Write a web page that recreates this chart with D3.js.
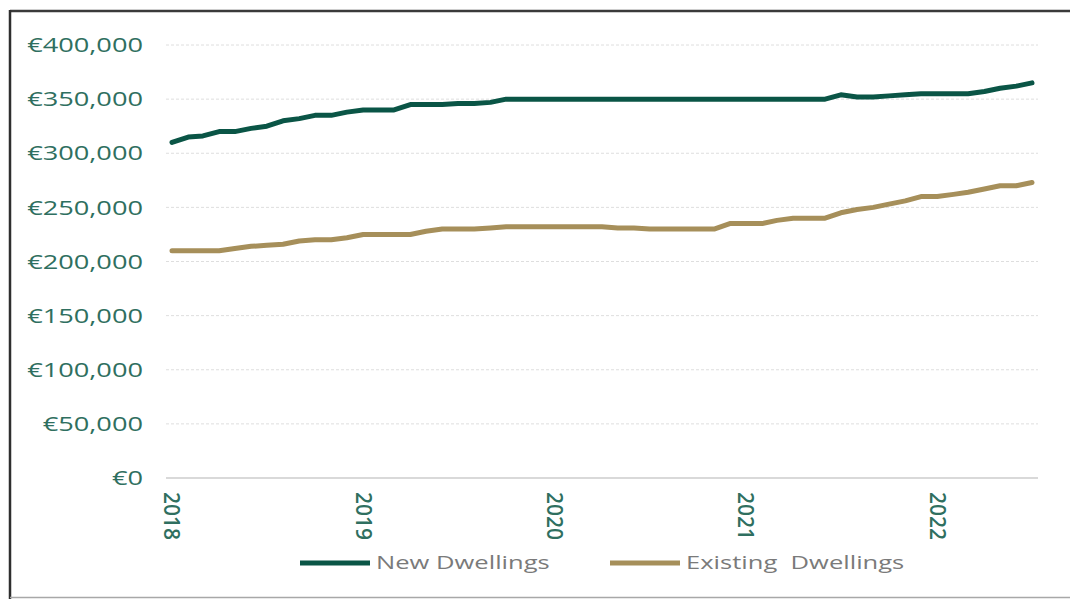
<!DOCTYPE html>
<html>
<head>
<meta charset="utf-8">
<script src="https://cdn.jsdelivr.net/npm/d3@7"></script>
<style>
  html, body { margin: 0; padding: 0; background: #fff; }
  svg { display: block; }
</style>
</head>
<body>
<svg id="chart" width="1070" height="599"></svg>
<script>
// ---- Data (monthly, Jan 2018 – Jul 2022) ----
const startMonth = new Date(2018, 0, 1);
const endMonth = new Date(2022, 6, 1);
const seriesNames = ["New Dwellings", "Existing  Dwellings"];
const newDwellings = [
  310000, 315000, 316000, 320000, 320000, 323000, 325000, 330000, 332000, 335000, 335000, 338000,
  340000, 340000, 340000, 345000, 345000, 345000, 346000, 346000, 347000, 350000, 350000, 350000,
  350000, 350000, 350000, 350000, 350000, 350000, 350000, 350000, 350000, 350000, 350000, 350000,
  350000, 350000, 350000, 350000, 350000, 350000, 354000, 352000, 352000, 353000, 354000, 355000,
  355000, 355000, 355000, 357000, 360000, 362000, 365000
];
const existingDwellings = [
  210000, 210000, 210000, 210000, 212000, 214000, 215000, 216000, 219000, 220000, 220000, 222000,
  225000, 225000, 225000, 225000, 228000, 230000, 230000, 230000, 231000, 232000, 232000, 232000,
  232000, 232000, 232000, 232000, 231000, 231000, 230000, 230000, 230000, 230000, 230000, 235000,
  235000, 235000, 238000, 240000, 240000, 240000, 245000, 248000, 250000, 253000, 256000, 260000,
  260000, 262000, 264000, 267000, 270000, 270000, 273000
];
const yTicks = [0, 50000, 100000, 150000, 200000, 250000, 300000, 350000, 400000];
const xTickYears = [2018, 2019, 2020, 2021, 2022];

const months = d3.timeMonth.range(startMonth, d3.timeMonth.offset(endMonth, 1));
const colors = ["#0a5546", "#a68f5a"];

const svg = d3.select("#chart");

// frame
svg.append("line").attr("x1", 10).attr("x2", 1070).attr("y1", 11).attr("y2", 11)
  .attr("stroke", "#3a3a3a").attr("stroke-width", 2.5);
svg.append("line").attr("x1", 10).attr("x2", 10).attr("y1", 10).attr("y2", 599)
  .attr("stroke", "#2e2e2e").attr("stroke-width", 2.5);
svg.append("line").attr("x1", 10).attr("x2", 1070).attr("y1", 597.5).attr("y2", 597.5)
  .attr("stroke", "#a8a8a8").attr("stroke-width", 1.5);

const x = d3.scaleTime().domain([startMonth, endMonth]).range([172, 1032]);
const y = d3.scaleLinear().domain([0, 400000]).range([478, 45]);

const fmt = v => "€" + d3.format(",")(v);

// gridlines
svg.append("g").selectAll("line").data(yTicks).join("line")
  .attr("x1", 166).attr("x2", 1038)
  .attr("y1", d => y(d)).attr("y2", d => y(d))
  .attr("stroke", d => d === 0 ? "#d9d9d9" : "#dedede")
  .attr("stroke-width", d => d === 0 ? 2 : 1)
  .attr("stroke-dasharray", d => d === 0 ? null : "3,2");

// y labels
svg.append("g").selectAll("text").data(yTicks).join("text")
  .attr("transform", d => `translate(143,${y(d)}) scale(1.36,1)`)
  .attr("dy", "0.36em")
  .attr("text-anchor", "end")
  .attr("font-family", "Open Sans, sans-serif")
  .attr("font-size", 20)
  .attr("fill", "#2f6f60")
  .text(fmt);

// x labels (rotated)
svg.append("g").selectAll("text").data(xTickYears).join("text")
  .attr("transform", d => `translate(${x(new Date(d, 0, 1))},492) rotate(90)`)
  .attr("dy", "0.36em")
  .attr("text-anchor", "start")
  .attr("font-family", "Open Sans, sans-serif")
  .attr("font-size", 21)
  .attr("font-weight", 600)
  .attr("fill", "#2f6f60")
  .text(d => String(d));

// lines
const line = d3.line().x((d, i) => x(months[i])).y(d => y(d)).curve(d3.curveLinear);
[newDwellings, existingDwellings].forEach((s, k) => {
  svg.append("path").datum(s)
    .attr("d", line)
    .attr("fill", "none")
    .attr("stroke", colors[k])
    .attr("stroke-width", 5)
    .attr("stroke-linejoin", "round")
    .attr("stroke-linecap", "round");
});

// legend
const legendX = [300, 610];
seriesNames.forEach((name, k) => {
  const g = svg.append("g").attr("transform", `translate(${legendX[k]},563)`);
  g.append("line").attr("x1", 0).attr("x2", 70).attr("y1", 0).attr("y2", 0)
    .attr("stroke", colors[k]).attr("stroke-width", 5);
  g.append("text")
    .attr("transform", "translate(76,0) scale(1.42,1)")
    .attr("dy", "0.36em")
    .attr("font-family", "Open Sans, sans-serif")
    .attr("font-size", 18)
    .attr("fill", "#7a7a7a")
    .style("white-space", "pre")
    .text(name);
});
</script>
</body>
</html>
